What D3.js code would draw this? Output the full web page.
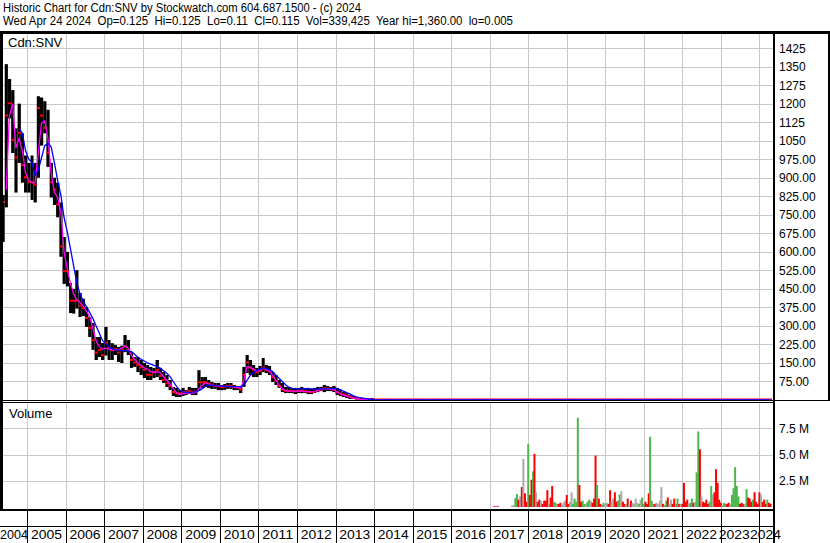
<!DOCTYPE html>
<html><head><meta charset="utf-8">
<script src="https://cdn.jsdelivr.net/npm/d3@7"></script>
<style>
body{margin:0;background:#fff;}
svg{display:block;}
text{font-family:"Liberation Sans",Arial,sans-serif;fill:#000;}
</style>
</head><body>
<svg id="chart" width="830" height="543"></svg>
<script>
// ---------------- DATA ----------------
const headerLines = [
  "Historic Chart for Cdn:SNV by Stockwatch.com 604.687.1500 - (c) 2024",
  "Wed Apr 24 2024  Op=0.125  Hi=0.125  Lo=0.11  Cl=0.115  Vol=339,425  Year hi=1,360.00  lo=0.005"
];
const symbolLabel = "Cdn:SNV";
const volumeLabel = "Volume";

// monthly bars (first of month), price in C$
const priceDates = [
 "2004-04-01","2004-05-01","2004-06-01","2004-07-01","2004-08-01","2004-09-01","2004-10-01","2004-11-01","2004-12-01",
 "2005-01-01","2005-02-01","2005-03-01","2005-04-01","2005-05-01","2005-06-01","2005-07-01","2005-08-01","2005-09-01","2005-10-01","2005-11-01","2005-12-01",
 "2006-01-01","2006-02-01","2006-03-01","2006-04-01","2006-05-01","2006-06-01","2006-07-01","2006-08-01","2006-09-01","2006-10-01","2006-11-01","2006-12-01",
 "2007-01-01","2007-02-01","2007-03-01","2007-04-01","2007-05-01","2007-06-01","2007-07-01","2007-08-01","2007-09-01","2007-10-01","2007-11-01","2007-12-01",
 "2008-01-01","2008-02-01","2008-03-01","2008-04-01","2008-05-01","2008-06-01","2008-07-01","2008-08-01","2008-09-01","2008-10-01","2008-11-01","2008-12-01",
 "2009-01-01","2009-02-01","2009-03-01","2009-04-01","2009-05-01","2009-06-01","2009-07-01","2009-08-01","2009-09-01","2009-10-01","2009-11-01","2009-12-01",
 "2010-01-01","2010-02-01","2010-03-01","2010-04-01","2010-05-01","2010-06-01","2010-07-01","2010-08-01","2010-09-01","2010-10-01","2010-11-01","2010-12-01",
 "2011-01-01","2011-02-01","2011-03-01","2011-04-01","2011-05-01","2011-06-01","2011-07-01","2011-08-01","2011-09-01","2011-10-01","2011-11-01","2011-12-01",
 "2012-01-01","2012-02-01","2012-03-01","2012-04-01","2012-05-01","2012-06-01","2012-07-01","2012-08-01","2012-09-01","2012-10-01","2012-11-01","2012-12-01",
 "2013-01-01","2013-02-01","2013-03-01","2013-04-01","2013-05-01","2013-06-01","2013-07-01","2013-08-01","2013-09-01","2013-10-01","2013-11-01","2013-12-01",
 "2014-01-01","2014-04-01","2014-07-01","2014-10-01","2015-01-01","2015-04-01","2015-07-01","2015-10-01",
 "2016-01-01","2016-04-01","2016-07-01","2016-10-01","2017-01-01","2017-04-01","2017-07-01","2017-10-01",
 "2018-01-01","2018-04-01","2018-07-01","2018-10-01","2019-01-01","2019-04-01","2019-07-01","2019-10-01",
 "2020-01-01","2020-04-01","2020-07-01","2020-10-01","2021-01-01","2021-04-01","2021-07-01","2021-10-01",
 "2022-01-01","2022-04-01","2022-07-01","2022-10-01","2023-01-01","2023-04-01","2023-07-01","2023-10-01",
 "2024-01-01","2024-04-01"
];
const priceHigh = [
 760,830,1360,1300,1255,1100,1200,1080,990,
 960,990,960,1230,1225,1210,1175,960,900,880,800,660,
 600,474,450,526,433,410,377,336,312,255,255,231,
 296,243,230,223,215,220,263,243,194,174,174,162,
 150,142,134,130,162,130,113,101,81,53,49,40,
 49,40,53,49,49,121,93,93,81,73,69,69,
 61,65,69,69,61,57,53,134,182,162,142,130,
 138,170,142,138,113,101,81,69,53,53,49,49,
 49,53,49,49,45,49,53,53,61,57,53,57,
 49,40,32,28,20,16,12,8,6,4,3,8,
 0.4,0.35,0.3,0.3,0.3,0.25,0.3,0.3,
 0.3,0.3,0.25,0.3,0.3,0.35,0.3,0.3,
 0.3,0.3,0.25,0.3,0.3,0.3,0.25,0.3,
 0.25,0.3,0.3,0.3,0.3,0.3,0.25,0.25,
 0.3,0.3,0.25,0.25,0.2,0.2,0.2,0.2,
 0.15,0.13
];
const priceLow = [
 620,640,780,1140,1000,840,960,880,840,
 840,810,800,900,1030,1080,944,820,790,740,580,470,
 460,352,350,370,336,340,296,255,203,162,174,162,
 180,162,162,182,154,150,194,182,130,134,113,101,
 89,81,81,89,93,81,69,53,40,16,12,12,
 16,20,24,20,20,40,49,53,49,45,45,40,
 40,41,45,45,40,40,28,53,109,101,93,93,
 101,113,109,101,73,61,49,32,28,28,28,24,
 28,28,28,24,24,28,32,36,32,36,36,32,
 20,16,12,8,4,4,2,2,1,0.5,0.2,0.2,
 0.05,0.05,0.05,0.05,0.05,0.05,0.05,0.05,
 0.05,0.05,0.05,0.05,0.05,0.05,0.05,0.05,
 0.05,0.05,0.05,0.05,0.05,0.05,0.05,0.05,
 0.05,0.05,0.05,0.05,0.05,0.05,0.05,0.05,
 0.05,0.05,0.05,0.05,0.05,0.05,0.05,0.05,
 0.1,0.1
];
const priceClose = [
 660,800,1150,1200,1050,980,1080,950,900,
 880,880,870,1180,1150,1100,1000,880,850,790,620,520,
 520,400,400,400,380,370,330,290,240,190,200,180,
 230,210,200,205,190,200,215,200,160,150,140,130,
 120,100,100,110,120,95,80,65,55,30,25,25,
 30,30,35,30,32,70,70,70,65,60,55,55,
 50,52,55,55,50,48,40,100,150,130,120,110,
 115,130,120,115,90,75,55,40,35,35,35,33,
 35,36,33,32,30,32,38,40,45,45,42,40,
 30,25,20,16,12,8,5,4,3,2,1,0.5,
 0.15,0.15,0.15,0.15,0.15,0.15,0.15,0.15,
 0.15,0.15,0.15,0.15,0.15,0.15,0.15,0.15,
 0.15,0.15,0.15,0.15,0.15,0.15,0.15,0.15,
 0.15,0.15,0.15,0.15,0.15,0.15,0.15,0.15,
 0.15,0.15,0.15,0.15,0.12,0.12,0.12,0.12,
 0.12,0.115
];
// short (magenta) and long (blue) moving averages
const maShort = [
 null,null,850,1150,1200,1020,1060,1010,920,
 890,880,880,1000,1120,1130,1060,920,840,820,760,600,
 530,470,430,405,395,380,360,336,290,240,215,205,
 210,205,203,203,203,210,220,210,180,165,150,140,
 130,125,115,112,115,110,95,80,65,45,30,22,
 25,28,28,28,30,45,60,68,65,60,57,57,
 55,55,55,53,53,50,48,80,135,132,125,118,
 120,128,125,115,100,80,60,45,38,36,36,35,
 36,36,35,34,33,34,38,42,46,46,44,42,
 32,25,20,16,12,9,6,4,3,2,1,0.5,
 0.15,0.15,0.15,0.15,0.15,0.15,0.15,0.15,
 0.15,0.15,0.15,0.15,0.15,0.15,0.15,0.15,
 0.15,0.15,0.15,0.15,0.15,0.15,0.15,0.15,
 0.15,0.15,0.15,0.15,0.15,0.15,0.15,0.15,
 0.15,0.15,0.15,0.15,0.12,0.12,0.12,0.12,
 0.12,0.12
];
const maLong = [
 null,null,null,null,null,null,1100,1080,1010,
 975,960,910,930,980,1030,1040,1025,960,890,830,740,
 680,610,545,474,430,400,378,355,330,300,270,240,
 228,215,208,204,202,200,200,198,196,185,172,165,
 158,150,145,140,136,128,118,108,95,75,55,40,
 32,31,31,32,33,38,45,55,60,60,58,57,
 56,55,55,54,54,54,54,60,80,100,112,120,
 125,130,128,122,115,100,88,75,62,52,47,45,
 45,45,45,45,45,44,44,44,45,45,46,46,
 45,42,36,30,25,18,13,10,8,6,4,2,
 0.2,0.2,0.2,0.2,0.2,0.2,0.2,0.2,
 0.2,0.2,0.2,0.2,0.2,0.2,0.2,0.2,
 0.2,0.2,0.2,0.2,0.2,0.2,0.2,0.2,
 0.2,0.2,0.2,0.2,0.2,0.2,0.2,0.2,
 0.2,0.2,0.2,0.2,0.15,0.15,0.15,0.15,
 0.15,0.15
];

// volume (millions of shares), half-month buckets
const volDates = [
 "2017-02-16","2017-03-16","2017-08-01","2017-08-16","2017-09-01","2017-09-16","2017-10-01","2017-10-16","2017-11-01","2017-11-16","2017-12-01","2017-12-16",
 "2018-01-01","2018-01-16","2018-02-01","2018-02-16","2018-03-01","2018-03-16","2018-04-01","2018-04-16","2018-05-01","2018-05-16","2018-06-01","2018-06-16","2018-07-01","2018-07-16","2018-08-01","2018-08-16","2018-09-01","2018-09-16","2018-10-01","2018-10-16","2018-11-01","2018-11-16","2018-12-01","2018-12-16",
 "2019-01-01","2019-01-16","2019-02-01","2019-02-16","2019-03-01","2019-03-16","2019-04-01","2019-04-16","2019-05-01","2019-05-16","2019-06-01","2019-06-16","2019-07-01","2019-07-16","2019-08-01","2019-08-16","2019-09-01","2019-09-16","2019-10-01","2019-10-16","2019-11-01","2019-11-16","2019-12-01","2019-12-16",
 "2020-01-01","2020-01-16","2020-02-01","2020-02-16","2020-03-01","2020-03-16","2020-04-01","2020-04-16","2020-05-01","2020-05-16","2020-06-01","2020-06-16","2020-07-01","2020-07-16","2020-08-01","2020-08-16","2020-09-01","2020-09-16","2020-10-01","2020-10-16","2020-11-01","2020-11-16","2020-12-01","2020-12-16",
 "2021-01-01","2021-01-16","2021-02-01","2021-02-16","2021-03-01","2021-03-16","2021-04-01","2021-04-16","2021-05-01","2021-05-16","2021-06-01","2021-06-16","2021-07-01","2021-07-16","2021-08-01","2021-08-16","2021-09-01","2021-09-16","2021-10-01","2021-10-16","2021-11-01","2021-11-16","2021-12-01","2021-12-16",
 "2022-01-01","2022-01-16","2022-02-01","2022-02-16","2022-03-01","2022-03-16","2022-04-01","2022-04-16","2022-05-01","2022-05-16","2022-06-01","2022-06-16","2022-07-01","2022-07-16","2022-08-01","2022-08-16","2022-09-01","2022-09-16","2022-10-01","2022-10-16","2022-11-01","2022-11-16","2022-12-01","2022-12-16",
 "2023-01-01","2023-01-16","2023-02-01","2023-02-16","2023-03-01","2023-03-16","2023-04-01","2023-04-16","2023-05-01","2023-05-16","2023-06-01","2023-06-16","2023-07-01","2023-07-16","2023-08-01","2023-08-16","2023-09-01","2023-09-16","2023-10-01","2023-10-16","2023-11-01","2023-11-16","2023-12-01","2023-12-16",
 "2024-01-01","2024-01-16","2024-02-01","2024-02-16","2024-03-01","2024-03-16","2024-04-01","2024-04-16"
];
const volValues = [
 0.1,0.1,0.15,0.2,0.86,1.24,0.7,1.0,1.9,4.6,1.3,0.5,
 6.0,1.15,2.6,3.4,5.06,1.4,0.5,0.7,0.6,0.3,0.6,0.6,1.6,0.3,0.9,2.0,0.5,0.4,0.3,0.3,0.4,0.2,0.4,0.6,
 1.15,0.3,0.5,1.4,0.3,0.8,0.5,8.5,2.1,0.5,0.6,0.3,0.3,0.5,0.7,0.6,0.4,0.8,4.9,2.1,0.8,0.3,0.2,0.4,
 0.3,0.4,0.3,1.6,0.5,0.8,1.4,0.5,0.6,1.2,1.5,0.5,0.3,0.3,0.8,0.3,0.6,0.4,0.3,0.8,0.4,0.3,0.7,0.9,
 0.3,0.5,0.3,1.3,6.7,0.6,0.3,0.3,0.4,0.3,0.6,1.9,0.3,0.2,0.6,0.9,0.3,0.7,0.3,0.8,0.3,0.8,0.3,0.3,
 0.3,2.3,0.5,0.7,0.3,0.4,0.8,0.4,0.5,3.3,7.2,5.5,1.0,0.5,0.4,0.7,0.3,0.5,2.0,1.2,1.4,3.6,2.3,0.7,
 0.4,0.2,0.4,0.3,0.3,0.4,0.3,1.15,1.8,3.8,2.0,1.0,0.3,0.4,0.3,0.3,1.7,0.9,0.8,0.5,0.7,1.4,0.5,0.3,
 1.4,1.2,0.5,0.7,0.3,0.7,0.4,0.3
];
// u = up (green), d = down (red), n = unchanged (grey)
const volDirections = [
 "d","d","n","n","u","u","d","n","d","n","d","d",
 "u","d","d","u","d","n","d","d","n","d","d","d","d","n","d","d","u","u","n","d","d","n","n","n",
 "d","d","n","n","u","u","u","u","d","d","u","u","n","u","u","n","d","d","d","u","d","d","u","u",
 "n","n","d","d","n","n","d","d","u","u","n","d","d","n","d","n","d","n","n","n","n","u","n","u",
 "u","d","d","d","u","u","u","d","n","n","n","n","d","u","u","d","n","n","d","d","u","u","d","n",
 "d","d","d","d","n","u","u","d","n","u","u","d","n","d","d","d","d","u","u","n","d","d","d","d",
 "d","n","u","u","d","d","n","u","u","u","u","u","d","d","d","n","u","d","d","d","u","d","d","d",
 "d","n","d","d","d","u","d","d"
];

const priceTicks = [75,150,225,300,375,450,525,600,675,750,825,900,975,1050,1125,1200,1275,1350,1425];
const priceTickLabels = ["75.00","150.00","225.00","300.00","375.00","450.00","525.00","600.00","675.00","750.00","825.00","900.00","975.00","1050","1125","1200","1275","1350","1425"];
const volTicks = [2.5,5,7.5];
const volTickLabels = ["2.5 M","5.0 M","7.5 M"];
const yearLabels = ["2004","2005","2006","2007","2008","2009","2010","2011","2012","2013","2014","2015","2016","2017","2018","2019","2020","2021","2022","2023","2024"];

// ---------------- DRAW ----------------
const svg = d3.select("#chart");
const W = 830, H = 543;
const plotL = 3, plotR = 773;
const priceTop = 33, priceBot = 400;
const volTop = 402, volBot = 510;
const stripBot = 526.5;
const parse = d3.utcParse("%Y-%m-%d");

const x = d3.scaleUtc()
  .domain([new Date(Date.UTC(2005,0,1)), new Date(Date.UTC(2024,0,1))])
  .range([27.3, 759.4]);
const yP = d3.scaleLinear().domain([0,1425]).range([400, 48.1]);
const yV = d3.scaleLinear().domain([0,7.5]).range([507, 428.3]);

svg.append("rect").attr("width",W).attr("height",H).attr("fill","#fff");

const defs = svg.append("defs");
defs.append("clipPath").attr("id","clipP").append("rect")
  .attr("x",plotL).attr("y",priceTop).attr("width",plotR-plotL).attr("height",priceBot-priceTop);
defs.append("clipPath").attr("id","clipV").append("rect")
  .attr("x",plotL).attr("y",volTop).attr("width",plotR-plotL).attr("height",volBot-volTop);

// header
svg.append("g").selectAll("text").data(headerLines).join("text")
  .attr("x",3).attr("y",(d,i)=>11.5+i*13)
  .attr("font-size",12)
  .attr("textLength",(d,i)=> i===0 ? 358 : 510)
  .attr("lengthAdjust","spacingAndGlyphs")
  .style("white-space","pre")
  .text(d=>d);

const yearStarts = yearLabels.slice(1).map(y => new Date(Date.UTC(+y,0,1)));

// grid
const grid = svg.append("g").attr("stroke","#c8c8c8").attr("stroke-width",1).attr("shape-rendering","crispEdges");
grid.selectAll("line.hp").data(priceTicks).join("line")
  .attr("x1",plotL).attr("x2",plotR)
  .attr("y1",d=>Math.round(yP(d))+0.5).attr("y2",d=>Math.round(yP(d))+0.5);
grid.append("g").selectAll("line").data(volTicks).join("line")
  .attr("x1",plotL).attr("x2",plotR)
  .attr("y1",d=>Math.round(yV(d))+0.5).attr("y2",d=>Math.round(yV(d))+0.5);
grid.append("g").selectAll("line").data(yearStarts).join("line")
  .attr("x1",d=>Math.round(x(d))+0.5).attr("x2",d=>Math.round(x(d))+0.5)
  .attr("y1",priceTop).attr("y2",priceBot);
grid.append("g").selectAll("line").data(yearStarts).join("line")
  .attr("x1",d=>Math.round(x(d))+0.5).attr("x2",d=>Math.round(x(d))+0.5)
  .attr("y1",volTop).attr("y2",volBot);

// price bars
const bars = priceDates.map((d,i)=>({
  d: parse(d), next: i<priceDates.length-1 ? parse(priceDates[i+1]) : null,
  hi: priceHigh[i], lo: priceLow[i], cl: priceClose[i]
}));
const pg = svg.append("g").attr("clip-path","url(#clipP)");
pg.selectAll("rect.bar").data(bars).join("rect")
  .attr("x",d=>x(d.d))
  .attr("width",d=> d.next ? Math.max(1, x(d.next)-x(d.d)) : 3)
  .attr("y",d=>yP(d.hi))
  .attr("height",d=>Math.max(0.5, yP(d.lo)-yP(d.hi)))
  .attr("fill","#000");
pg.selectAll("rect.cl").data(bars).join("rect")
  .attr("x",d=>x(d.d))
  .attr("width",d=> d.next ? Math.max(1, x(d.next)-x(d.d)) : 3)
  .attr("y",d=>yP(d.cl)-1.5)
  .attr("height",2)
  .attr("fill","#ff0000");

const lineGen = (arr) => d3.line()
  .defined((d,i)=>arr[i]!==null)
  .x((d,i)=>x(parse(priceDates[i]))+1.5)
  .y((d,i)=>yP(arr[i]));
pg.append("path").datum(maShort).attr("d",lineGen(maShort))
  .attr("fill","none").attr("stroke","#ff00ff").attr("stroke-width",1.3);
pg.append("path").datum(maLong).attr("d",lineGen(maLong))
  .attr("fill","none").attr("stroke","#0000ff").attr("stroke-width",1.3);

// volume bars
const volColor = {u:"#4cb84c", d:"#ff0000", n:"#aaaaaa"};
const vg = svg.append("g").attr("clip-path","url(#clipV)");
vg.selectAll("rect").data(volDates).join("rect")
  .attr("x",(d)=>x(parse(d))-1)
  .attr("width",2)
  .attr("y",(d,i)=>yV(volValues[i]))
  .attr("height",(d,i)=>yV(0)-yV(volValues[i]))
  .attr("fill",(d,i)=>volColor[volDirections[i]]);

// labels inside panels
svg.append("text").attr("x",8).attr("y",46.5).attr("font-size",13).text(symbolLabel);
svg.append("text").attr("x",9).attr("y",418).attr("font-size",13).text(volumeLabel);

// right axis labels
svg.append("g").selectAll("text").data(priceTicks).join("text")
  .attr("x",779).attr("y",d=>yP(d)+4.5).attr("font-size",12)
  .text((d,i)=>priceTickLabels[i]);
svg.append("g").selectAll("text").data(volTicks).join("text")
  .attr("x",779).attr("y",d=>yV(d)+4.5).attr("font-size",12)
  .text((d,i)=>volTickLabels[i]);

// frame lines
const fr = svg.append("g").attr("stroke","#000").attr("shape-rendering","crispEdges");
fr.append("line").attr("x1",0).attr("x2",W).attr("y1",32).attr("y2",32).attr("stroke-width",3);
fr.append("line").attr("x1",1.5).attr("x2",1.5).attr("y1",31).attr("y2",volBot).attr("stroke-width",3);
fr.append("line").attr("x1",0).attr("x2",W).attr("y1",400.5).attr("y2",400.5).attr("stroke-width",1);
fr.append("line").attr("x1",0).attr("x2",plotR).attr("y1",402.5).attr("y2",402.5).attr("stroke-width",1);
fr.append("line").attr("x1",0).attr("x2",plotR).attr("y1",510).attr("y2",510).attr("stroke-width",2);
fr.append("line").attr("x1",0).attr("x2",plotR).attr("y1",stripBot).attr("y2",stripBot).attr("stroke-width",1);
fr.append("line").attr("x1",773.5).attr("x2",773.5).attr("y1",31).attr("y2",H).attr("stroke-width",2);
fr.append("line").attr("x1",829).attr("x2",829).attr("y1",31).attr("y2",401).attr("stroke-width",2);
fr.append("g").selectAll("line").data(yearStarts).join("line")
  .attr("x1",d=>Math.round(x(d))+0.5).attr("x2",d=>Math.round(x(d))+0.5)
  .attr("y1",volBot).attr("y2",H).attr("stroke-width",1);

// year labels: centred in each year cell; first kept inside the frame, last runs on from 2023
const xl = svg.append("g");
yearLabels.forEach((y,i)=>{
  const a = x(new Date(Date.UTC(+y,0,1)));
  const b = x(new Date(Date.UTC(+y+1,0,1)));
  let start;
  if (i===0) start = 0;
  else if (i===yearLabels.length-1) start = a - 9.3;
  else if (i===yearLabels.length-2) start = (a+b)/2 - 15.5 - 6;
  else start = (a+b)/2 - 15.5;
  xl.append("text")
    .attr("x", start)
    .attr("y",539).attr("font-size",13)
    .attr("textLength", i===0 ? 28 : 31).attr("lengthAdjust","spacingAndGlyphs")
    .text(y);
});
</script>
</body></html>
